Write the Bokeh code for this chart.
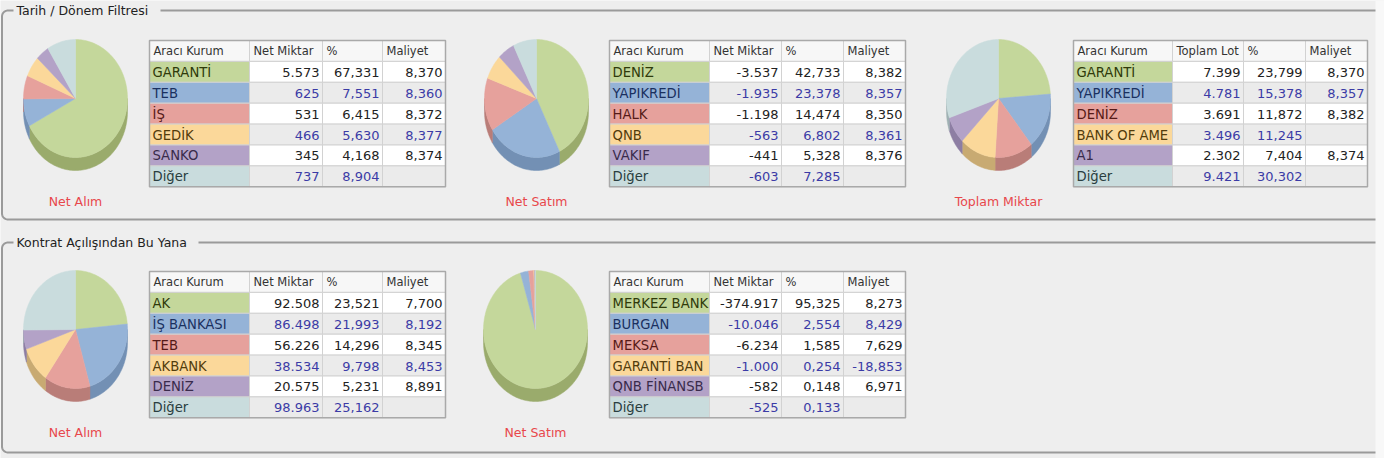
import numpy as np
from bokeh.plotting import figure
from bokeh.models import Range1d
from bokeh.embed import file_html
from bokeh.resources import INLINE
from bokeh.core.properties import value

# ---------------- data ----------------
headers_net = ["Aracı Kurum", "Net Miktar", "%", "Maliyet"]
headers_tot = ["Aracı Kurum", "Toplam Lot", "%", "Maliyet"]

t1_names = ["GARANTİ", "TEB", "İŞ", "GEDİK", "SANKO", "Diğer"]
t1_qty = [5573, 625, 531, 466, 345, 737]
t1_pct = [67.331, 7.551, 6.415, 5.630, 4.168, 8.904]
t1_cost = [8.370, 8.360, 8.372, 8.377, 8.374, None]

t2_names = ["DENİZ", "YAPIKREDİ", "HALK", "QNB", "VAKIF", "Diğer"]
t2_qty = [-3537, -1935, -1198, -563, -441, -603]
t2_pct = [42.733, 23.378, 14.474, 6.802, 5.328, 7.285]
t2_cost = [8.382, 8.357, 8.350, 8.361, 8.376, None]

t3_names = ["GARANTİ", "YAPIKREDİ", "DENİZ", "BANK OF AME", "A1", "Diğer"]
t3_qty = [7399, 4781, 3691, 3496, 2302, 9421]
t3_pct = [23.799, 15.378, 11.872, 11.245, 7.404, 30.302]
t3_cost = [8.370, 8.357, 8.382, None, 8.374, None]

t4_names = ["AK", "İŞ BANKASI", "TEB", "AKBANK", "DENİZ", "Diğer"]
t4_qty = [92508, 86498, 56226, 38534, 20575, 98963]
t4_pct = [23.521, 21.993, 14.296, 9.798, 5.231, 25.162]
t4_cost = [7.700, 8.192, 8.345, 8.453, 8.891, None]

t5_names = ["MERKEZ BANK", "BURGAN", "MEKSA", "GARANTİ BAN", "QNB FİNANSB", "Diğer"]
t5_qty = [-374917, -10046, -6234, -1000, -582, -525]
t5_pct = [95.325, 2.554, 1.585, 0.254, 0.148, 0.133]
t5_cost = [8.273, 8.429, 7.629, -18.853, 6.971, None]

pie_titles = ["Net Alım", "Net Satım", "Toplam Miktar", "Net Alım", "Net Satım"]
section_titles = ["Tarih / Dönem Filtresi", "Kontrat Açılışından Bu Yana"]

# ---------------- styles ----------------
FILL = ["#c4d79b", "#95b3d7", "#e6a19c", "#fbd89a", "#b3a2c7", "#c9dcdd"]
SIDE = ["#9aab6c", "#7390b4", "#b97d78", "#c8aa72", "#8d7ea3", "#9fb1b3"]
LBL_TXT = ["#2f3a0a", "#1a3060", "#561a17", "#523c0c", "#392b4b", "#2a3e40"]
BG = "#eeeeee"
FONT = value("DejaVu Sans")


def fmt_int(v):
    s = f"{abs(int(v)):,}".replace(",", ".")
    return ("-" if v < 0 else "") + s


def fmt_dec(v):
    if v is None:
        return ""
    return f"{v:.3f}".replace(".", ",")


p = figure(width=1384, height=458, output_backend="svg", toolbar_location=None,
           x_range=Range1d(8, 1392), y_range=Range1d(466, 8),
           min_border=0, background_fill_color=BG, border_fill_color=BG)
p.axis.visible = False
p.grid.visible = False
p.outline_line_color = None


def frame(top, bottom, title, gap_end):
    r = 6.0
    left = 9.5
    t1 = np.linspace(np.pi / 2, np.pi, 10)
    t2 = np.linspace(np.pi, 1.5 * np.pi, 10)
    xs = [1400, left + r] + list(left + r + r * np.cos(t1)) + list(left + r + r * np.cos(t2)) + [left + r, 1400]
    ys = [top, top] + list(top + r - r * np.sin(t1)) + list(bottom - r - r * np.sin(t2)) + [bottom, bottom]
    p.line(xs, ys, line_color="#9a9a9a", line_width=2)
    p.quad(left=[21], right=[gap_end], top=[top - 7], bottom=[top + 7], fill_color=BG, line_color=None)
    p.text([24], [top], text=[title], text_font=FONT, text_font_size="12.5px",
           text_color="#222222", text_baseline="middle", text_align="left")


def pie(cx, cy, pct, title, rx=52.0, ry=59.0, depth=13.0):
    v = np.array(pct, float)
    frac = v / v.sum()
    ends = np.cumsum(frac) * 2 * np.pi
    starts = ends - frac * 2 * np.pi
    sx, sy, sc, tx, ty, tc = [], [], [], [], [], []
    for i, (a0, a1) in enumerate(zip(starts, ends)):
        n = max(3, int((a1 - a0) / (2 * np.pi) * 240) + 3)
        t = np.linspace(a0, a1, n)
        tx.append([cx] + list(cx + rx * np.sin(t)))
        ty.append([cy] + list(cy - ry * np.cos(t)))
        tc.append(FILL[i])
        s0, s1 = max(a0, np.pi / 2), min(a1, 1.5 * np.pi)
        if s1 > s0:
            m = max(3, int((s1 - s0) / (2 * np.pi) * 240) + 3)
            t = np.linspace(s0, s1, m)
            x = cx + rx * np.sin(t)
            y = cy - ry * np.cos(t)
            sx.append(list(x) + list(x[::-1]))
            sy.append(list(y) + list((y + depth)[::-1]))
            sc.append(SIDE[i])
    if sx:
        p.patches(sx, sy, fill_color=sc, line_color=sc, line_width=0.5)
    p.patches(tx, ty, fill_color=tc, line_color=tc, line_width=0.5)
    p.text([cx], [cy + ry + 44], text=[title], text_font=FONT, text_font_size="12.5px",
           text_color="#e8474b", text_align="center", text_baseline="middle")


def table(edges, top, header, names, qty, pct, cost, rh=20.9):
    L, R, T, B, C = [], [], [], [], []
    tx, ty, tt, tcol, talign = [], [], [], [], []
    for j in range(4):
        L.append(edges[j]); R.append(edges[j + 1]); T.append(top); B.append(top + rh); C.append("#f7f7f7")
    for i in range(len(names)):
        y0 = top + rh * (i + 1)
        L.append(edges[0]); R.append(edges[1]); T.append(y0); B.append(y0 + rh); C.append(FILL[i])
        bg = "#ffffff" if i % 2 == 0 else "#ebebeb"
        for j in range(1, 4):
            L.append(edges[j]); R.append(edges[j + 1]); T.append(y0); B.append(y0 + rh); C.append(bg)
        tx.append(edges[0] + 3); ty.append(y0 + rh / 2 + 0.5); tt.append(names[i]); tcol.append(LBL_TXT[i])
        talign.append("left")
        vc = "#222222" if i % 2 == 0 else "#3b3ba6"
        for j, s in zip(range(1, 4), [fmt_int(qty[i]), fmt_dec(pct[i]), fmt_dec(cost[i])]):
            tx.append(edges[j + 1] - 3); ty.append(y0 + rh / 2 + 0.5); tt.append(s); tcol.append(vc)
            talign.append("right")
    p.quad(left=L, right=R, top=T, bottom=B, fill_color=C, line_color="#d2d2d2", line_width=1)
    p.quad(left=[edges[0]], right=[edges[-1]], top=[top], bottom=[top + rh * 7],
           fill_color=None, line_color="#a9a9a9", line_width=1.5)
    hx = [edges[j] + 4 for j in range(4)]
    p.text(hx, [top + rh / 2 + 0.5] * 4, text=header, text_font=FONT, text_font_size="11.5px",
           text_color="#333333", text_align="left", text_baseline="middle")
    for al, fs in (("left", "13.2px"), ("right", "13px")):
        idx = [k for k in range(len(tt)) if talign[k] == al]
        p.text([tx[k] for k in idx], [ty[k] for k in idx], text=[tt[k] for k in idx],
               text_font=FONT, text_font_size=fs, text_color=[tcol[k] for k in idx],
               text_align=al, text_baseline="middle")


frame(18, 227, section_titles[0], 168)
frame(250, 460, section_titles[1], 206)

pie(83, 106, t1_pct, pie_titles[0])
pie(544, 106, t2_pct, pie_titles[1])
pie(1006, 106, t3_pct, pie_titles[2])
pie(83, 337, t4_pct, pie_titles[3])
pie(543, 337, t5_pct, pie_titles[4])

table([157, 257, 330, 390, 453], 48, headers_net, t1_names, t1_qty, t1_pct, t1_cost)
table([617, 717, 789, 851, 913], 48, headers_net, t2_names, t2_qty, t2_pct, t2_cost)
table([1081, 1180, 1251, 1313, 1375], 48, headers_tot, t3_names, t3_qty, t3_pct, t3_cost)
table([157, 257, 330, 390, 453], 279, headers_net, t4_names, t4_qty, t4_pct, t4_cost)
table([617, 717, 789, 851, 913], 279, headers_net, t5_names, t5_qty, t5_pct, t5_cost)

# light strip at the right edge of the screenshot
p.quad(left=[1383], right=[1392], top=[8], bottom=[466], fill_color="#f8f8f8", line_color=None)

open("out.html", "w").write(file_html(p, INLINE))
